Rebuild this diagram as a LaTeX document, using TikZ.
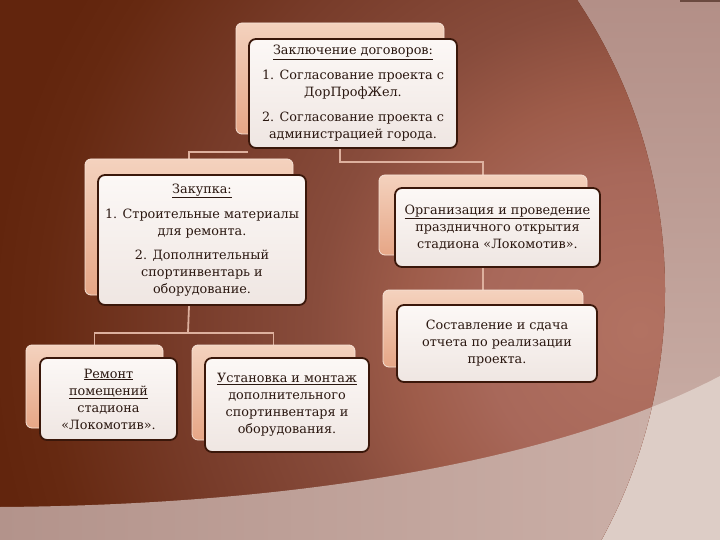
\documentclass[tikz,border=0pt]{standalone}
\usepackage{fontspec}
\setmainfont{DejaVu Serif}
\usetikzlibrary{calc}
\definecolor{righttop}{HTML}{B38F87}
\definecolor{rightbot}{HTML}{CDB3AB}
\definecolor{bandleft}{HTML}{B3938B}
\definecolor{bandright}{HTML}{CDB2AA}
\definecolor{lightbg}{HTML}{DDCDC6}
\definecolor{darkbg}{RGB}{98,37,13}
\definecolor{peach}{HTML}{E6A686}
\definecolor{peachlight}{HTML}{F4D2BE}
\definecolor{peachedge}{HTML}{F6E2D6}
\definecolor{boxedge}{HTML}{3A170A}
\definecolor{boxfill}{HTML}{FCF8F6}
\definecolor{boxfilltwo}{HTML}{EFE6E2}
\definecolor{txt}{HTML}{2A1710}
\definecolor{conncol}{HTML}{DDB09E}
\definecolor{topbar}{HTML}{6B4A40}
\pgfdeclareradialshading{bgrad}{\pgfpoint{0bp}{0bp}}{%
  color(0bp)=(rgb,255:red,178;green,114;blue,98);
  color(6bp)=(rgb,255:red,168;green,104;blue,90);
  color(9bp)=(rgb,255:red,158;green,92;blue,74);
  color(12.5bp)=(rgb,255:red,136;green,76;blue,60);
  color(17.5bp)=(rgb,255:red,120;green,60;blue,42);
  color(23bp)=(rgb,255:red,102;green,41;blue,17);
  color(25bp)=(rgb,255:red,98;green,37;blue,13);
  color(50bp)=(rgb,255:red,98;green,37;blue,13)}
\pgfdeclarelayer{backdrop}
\pgfdeclarelayer{lines}
\pgfsetlayers{backdrop,lines,main}
\begin{document}
\begin{tikzpicture}[x=1pt,y=-1pt,
  backbox/.style={rectangle, rounded corners=6pt, draw=peachedge, line width=0.8pt,
    top color=peachlight, bottom color=peach, inner sep=0pt},
  frontbox/.style={rectangle, rounded corners=7pt, draw=boxedge, line width=1.8pt,
    top color=boxfill, bottom color=boxfilltwo, inner sep=0pt, align=center,
    text=txt, font=\fontsize{12.8}{17}\selectfont},
  conn/.style={draw=conncol, line width=1.8pt}]
\useasboundingbox (0,0) rectangle (720,540);

% back boxes
\node[backbox, minimum width=208pt, minimum height=111pt] (topb) at (340,78.5) {};
\node[backbox, minimum width=208pt, minimum height=136pt] (zakb) at (189,227) {};
\node[backbox, minimum width=208pt, minimum height=80pt] (orgb) at (483,215) {};
\node[backbox, minimum width=200pt, minimum height=77pt] (sostb) at (483,328.5) {};
\node[backbox, minimum width=137pt, minimum height=83pt] (remb) at (94.5,386.5) {};
\node[backbox, minimum width=163pt, minimum height=95pt] (ustb) at (273.5,392.5) {};

% front boxes
\node[frontbox, minimum width=208pt, minimum height=109pt] (topf) at (353,93.5)
  {\underline{Заключение договоров:}\\[8pt]1. Согласование проекта с\\ДорПрофЖел.\\[8pt]2. Согласование проекта с\\администрацией города.};
\node[frontbox, minimum width=208pt, minimum height=130pt] (zakf) at (202,240)
  {\underline{Закупка:}\\[8pt]1. Строительные материалы\\для ремонта.\\[7pt]2. Дополнительный\\спортинвентарь и\\оборудование.};
\node[frontbox, minimum width=205pt, minimum height=79pt] (orgf) at (497.5,227.5)
  {\underline{Организация и проведение}\\праздничного открытия\\стадиона «Локомотив».};
\node[frontbox, minimum width=200pt, minimum height=77pt] (sostf) at (497,343.5)
  {Составление и сдача\\отчета по реализации\\проекта.};
\node[frontbox, minimum width=137pt, minimum height=82pt] (remf) at (108.5,399)
  {\underline{Ремонт}\\\underline{помещений}\\стадиона\\«Локомотив».};
\node[frontbox, minimum width=164pt, minimum height=94pt] (ustf) at (287,405)
  {\underline{Установка и монтаж}\\дополнительного\\спортинвентаря и\\оборудования.};

\coordinate (rj) at (340,162);
\coordinate (lj) at (188,333);

\begin{pgfonlayer}{lines}
  \draw[conn] (zakb.north) |- ([yshift=-3pt]topf.south west);
  \draw[conn] (topb.center |- topf.south) -- (rj) -| (orgb.north);
  \draw[conn] (orgb.center |- orgf.south) -- (sostb.north);
  \draw[conn] (zakb.center |- zakf.south) -- (lj);
  \draw[conn] (remb.north) |- (lj) -| (ustb.north);
\end{pgfonlayer}

\begin{pgfonlayer}{backdrop}
  \begin{scope}
    \clip (0,0) rectangle (720,540);
    \shade[top color=righttop, bottom color=rightbot] (0,0) rectangle (720,540);
    \fill[lightbg] (0,507) .. controls (300,505) and (560,460) .. (720,376) -- (720,540) -- (0,540) -- cycle;
    \begin{scope}
      \clip (143,290) circle (522);
      \fill[darkbg] (0,0) rectangle (720,540);
      \shade[shading=bgrad] (640,330) circle (650);
      \shade[left color=bandleft, right color=bandright] (0,507) .. controls (300,505) and (560,460) .. (720,376) -- (720,540) -- (0,540) -- cycle;
    \end{scope}
    \fill[topbar] (680,0) rectangle (720,2);
  \end{scope}
\end{pgfonlayer}
\end{tikzpicture}
\end{document}
